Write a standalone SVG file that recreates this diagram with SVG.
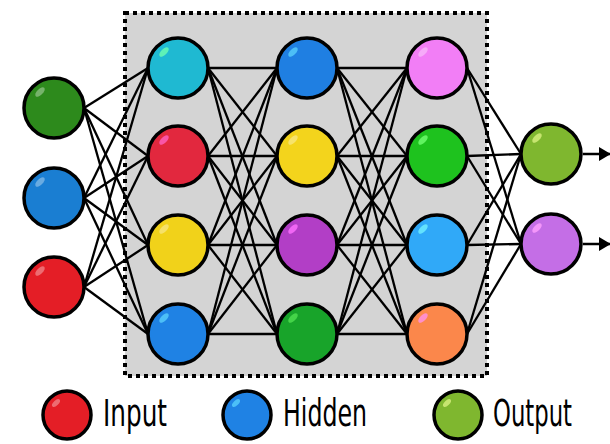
<svg xmlns="http://www.w3.org/2000/svg" width="610" height="444" viewBox="0 0 610 444">
<defs>
<marker id="arrow" markerWidth="12" markerHeight="14" refX="11" refY="7" orient="auto" markerUnits="userSpaceOnUse">
<path d="M0,0 L12,7 L0,14 Z" fill="#000"/>
</marker>
</defs>
<style>
.node{stroke:#000;stroke-width:3.5}
.hl{fill:#fff;opacity:0.35}
.edge{stroke:#000;stroke-width:2.3;fill:none}
.lbl{font-family:"Liberation Sans Narrow","DejaVu Sans Condensed","Liberation Sans",sans-serif;font-size:37px;fill:#000}
</style>
<rect width="610" height="444" fill="#fff"/>
<rect id="hidden-box" x="125" y="13" width="362" height="363" fill="#d4d4d4" stroke="#000" stroke-width="4" stroke-dasharray="4 4"/>
<g id="connectors" class="edge">
<line x1="84" y1="108" x2="148" y2="68"/><line x1="84" y1="108" x2="148" y2="156"/><line x1="84" y1="108" x2="148" y2="245"/><line x1="84" y1="108" x2="148" y2="334"/>
<line x1="84" y1="198" x2="148" y2="68"/><line x1="84" y1="198" x2="148" y2="156"/><line x1="84" y1="198" x2="148" y2="245"/><line x1="84" y1="198" x2="148" y2="334"/>
<line x1="84" y1="287" x2="148" y2="68"/><line x1="84" y1="287" x2="148" y2="156"/><line x1="84" y1="287" x2="148" y2="245"/><line x1="84" y1="287" x2="148" y2="334"/>
<line x1="208" y1="68" x2="277" y2="68"/><line x1="208" y1="68" x2="277" y2="156"/><line x1="208" y1="68" x2="277" y2="245"/><line x1="208" y1="68" x2="277" y2="334"/>
<line x1="208" y1="156" x2="277" y2="68"/><line x1="208" y1="156" x2="277" y2="156"/><line x1="208" y1="156" x2="277" y2="245"/><line x1="208" y1="156" x2="277" y2="334"/>
<line x1="208" y1="245" x2="277" y2="68"/><line x1="208" y1="245" x2="277" y2="156"/><line x1="208" y1="245" x2="277" y2="245"/><line x1="208" y1="245" x2="277" y2="334"/>
<line x1="208" y1="334" x2="277" y2="68"/><line x1="208" y1="334" x2="277" y2="156"/><line x1="208" y1="334" x2="277" y2="245"/><line x1="208" y1="334" x2="277" y2="334"/>
<line x1="337" y1="68" x2="407" y2="68"/><line x1="337" y1="68" x2="407" y2="156"/><line x1="337" y1="68" x2="407" y2="245"/><line x1="337" y1="68" x2="407" y2="334"/>
<line x1="337" y1="156" x2="407" y2="68"/><line x1="337" y1="156" x2="407" y2="156"/><line x1="337" y1="156" x2="407" y2="245"/><line x1="337" y1="156" x2="407" y2="334"/>
<line x1="337" y1="245" x2="407" y2="68"/><line x1="337" y1="245" x2="407" y2="156"/><line x1="337" y1="245" x2="407" y2="245"/><line x1="337" y1="245" x2="407" y2="334"/>
<line x1="337" y1="334" x2="407" y2="68"/><line x1="337" y1="334" x2="407" y2="156"/><line x1="337" y1="334" x2="407" y2="245"/><line x1="337" y1="334" x2="407" y2="334"/>
<line x1="467" y1="68" x2="521" y2="154"/><line x1="467" y1="68" x2="521" y2="244"/>
<line x1="467" y1="156" x2="521" y2="154"/><line x1="467" y1="156" x2="521" y2="244"/>
<line x1="467" y1="245" x2="521" y2="154"/><line x1="467" y1="245" x2="521" y2="244"/>
<line x1="467" y1="334" x2="521" y2="154"/><line x1="467" y1="334" x2="521" y2="244"/>
<line x1="583" y1="154" x2="610" y2="154" stroke-width="2.5" marker-end="url(#arrow)"/>
<line x1="583" y1="244" x2="610" y2="244" stroke-width="2.5" marker-end="url(#arrow)"/>
</g>
<g id="in1"><circle class="node" cx="54" cy="108" r="30" fill="#2d8a1c"/><ellipse class="hl" cx="40" cy="92" rx="6" ry="3" transform="rotate(-45 40 92)"/></g>
<g id="in2"><circle class="node" cx="54" cy="198" r="30" fill="#1a7ed2"/><ellipse class="hl" cx="40" cy="182" rx="6" ry="3" transform="rotate(-45 40 182)"/></g>
<g id="in3"><circle class="node" cx="54" cy="287" r="30" fill="#e41e26"/><ellipse class="hl" cx="40" cy="271" rx="6" ry="3" transform="rotate(-45 40 271)"/></g>
<g id="h1a"><circle class="node" cx="178" cy="68" r="30" fill="#1fb9d2"/><ellipse class="hl" cx="164" cy="52" rx="6" ry="3" transform="rotate(-45 164 52)" style="fill:#6effb0;opacity:0.8"/></g>
<g id="h1b"><circle class="node" cx="178" cy="156" r="30" fill="#e2283e"/><ellipse class="hl" cx="164" cy="140" rx="6" ry="3" transform="rotate(-45 164 140)" style="fill:#ff60c0;opacity:0.8"/></g>
<g id="h1c"><circle class="node" cx="178" cy="245" r="30" fill="#f1d21a"/><ellipse class="hl" cx="164" cy="229" rx="6" ry="3" transform="rotate(-45 164 229)"/></g>
<g id="h1d"><circle class="node" cx="178" cy="334" r="30" fill="#1f82e4"/><ellipse class="hl" cx="164" cy="318" rx="6" ry="3" transform="rotate(-45 164 318)" style="fill:#60d8ff;opacity:0.7"/></g>
<g id="h2a"><circle class="node" cx="307" cy="68" r="30" fill="#1f7fe2"/><ellipse class="hl" cx="293" cy="52" rx="6" ry="3" transform="rotate(-45 293 52)" style="fill:#60d8ff;opacity:0.7"/></g>
<g id="h2b"><circle class="node" cx="307" cy="156" r="30" fill="#f3d41c"/><ellipse class="hl" cx="293" cy="140" rx="6" ry="3" transform="rotate(-45 293 140)"/></g>
<g id="h2c"><circle class="node" cx="307" cy="245" r="30" fill="#b23ec6"/><ellipse class="hl" cx="293" cy="229" rx="6" ry="3" transform="rotate(-45 293 229)" style="fill:#ff70ff;opacity:0.8"/></g>
<g id="h2d"><circle class="node" cx="307" cy="334" r="30" fill="#18a42a"/><ellipse class="hl" cx="293" cy="318" rx="6" ry="3" transform="rotate(-45 293 318)" style="fill:#50e050;opacity:0.8"/></g>
<g id="h3a"><circle class="node" cx="437" cy="68" r="30" fill="#f27ef6"/><ellipse class="hl" cx="423" cy="52" rx="6" ry="3" transform="rotate(-45 423 52)"/></g>
<g id="h3b"><circle class="node" cx="437" cy="156" r="30" fill="#1ec21e"/><ellipse class="hl" cx="423" cy="140" rx="6" ry="3" transform="rotate(-45 423 140)" style="fill:#70ff70;opacity:0.8"/></g>
<g id="h3c"><circle class="node" cx="437" cy="245" r="30" fill="#30a9f8"/><ellipse class="hl" cx="423" cy="229" rx="6" ry="3" transform="rotate(-45 423 229)" style="fill:#70f0ff;opacity:0.8"/></g>
<g id="h3d"><circle class="node" cx="437" cy="334" r="30" fill="#fb874b"/><ellipse class="hl" cx="423" cy="318" rx="6" ry="3" transform="rotate(-45 423 318)" style="fill:#ff90d8;opacity:0.9"/></g>
<g id="out1"><circle class="node" cx="551" cy="154" r="30" fill="#7fb72f"/><ellipse class="hl" cx="537" cy="138" rx="6" ry="3" transform="rotate(-45 537 138)" style="fill:#d8f080;opacity:0.8"/></g>
<g id="out2"><circle class="node" cx="551" cy="244" r="30" fill="#c46ee6"/><ellipse class="hl" cx="537" cy="228" rx="6" ry="3" transform="rotate(-45 537 228)" style="fill:#ffa0ff;opacity:0.8"/></g>
<g id="legend-input"><circle class="node" cx="67" cy="415" r="24" fill="#e41e26"/><ellipse class="hl" cx="56" cy="403" rx="5" ry="2.5" transform="rotate(-45 56 403)"/><text class="lbl" x="103" y="426" textLength="64" lengthAdjust="spacingAndGlyphs">Input</text></g>
<g id="legend-hidden"><circle class="node" cx="247" cy="415" r="24" fill="#1f82e4"/><ellipse class="hl" cx="236" cy="403" rx="5" ry="2.5" transform="rotate(-45 236 403)" style="fill:#60d8ff;opacity:0.7"/><text class="lbl" x="283" y="426" textLength="84" lengthAdjust="spacingAndGlyphs">Hidden</text></g>
<g id="legend-output"><circle class="node" cx="458" cy="415" r="24" fill="#7fb72f"/><ellipse class="hl" cx="447" cy="403" rx="5" ry="2.5" transform="rotate(-45 447 403)" style="fill:#d8f080;opacity:0.8"/><text class="lbl" x="493" y="426" textLength="79" lengthAdjust="spacingAndGlyphs">Output</text></g>
</svg>
